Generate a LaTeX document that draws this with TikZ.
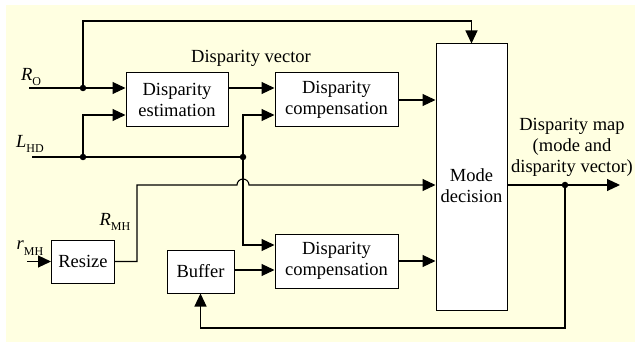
\documentclass[tikz,border=0pt]{standalone}
\usepackage{fontspec}
\setmainfont{Liberation Serif}
\usepackage{tikz}
\usetikzlibrary{arrows.meta,positioning}
\definecolor{paleyellow}{RGB}{255,255,225}
\newcommand{\sublbl}[2]{\textit{#1}\raisebox{-0.3em}{\fontsize{12}{12}\selectfont #2}}

\begin{document}
\begin{tikzpicture}[
  x=1pt, y=-1pt,
  font=\fontsize{18.5}{21}\selectfont,
  box/.style={rectangle, draw, line width=1pt, fill=white, align=center, inner sep=0pt},
  arrow/.style={-{Triangle[length=13pt, width=12pt]}, line width=1.1pt},
  wire/.style={line width=1.1pt},
  dot/.style={circle, fill, inner sep=0pt, minimum size=6.5pt}
]
\useasboundingbox (0,0) rectangle (635,342);
\fill[paleyellow] (6,5) rectangle (635,342);

\node[box, minimum width=102pt, minimum height=54pt] (de) at (177,100) {Disparity\\estimation};
\node[box, minimum width=123pt, minimum height=54pt] (dc1) at (336.5,100) {Disparity\\compensation};
\node[box, minimum width=71pt, minimum height=266pt] (mode) at (471.5,177) {};
\node (modetext) at (471.5,186) [align=center] {Mode\\decision};
\node[box, minimum width=63pt, minimum height=43pt] (resize) at (83,261.5) {Resize};
\node[box, minimum width=67pt, minimum height=43pt] (buffer) at (200.5,271.5) {Buffer};
\node[box, minimum width=123pt, minimum height=54pt] (dc2) at (336.5,261) {Disparity\\compensation};

% inputs, junctions, output
\coordinate (ro) at (29,88);
\coordinate (lhd) at (32,157);
\coordinate (rmh) at (27,261.5);
\coordinate (j1) at (83,88);
\coordinate (j2) at (83,157);
\coordinate (j3) at (243,157);
\coordinate (j4) at (565,185);
\coordinate (out) at (620,185);

\node (rolabel) at (31,77) {\sublbl{R}{O}};
\node (lhdlabel) at (30,144) {\sublbl{L}{HD}};
\node (rmhlabel) at (30,248) {\sublbl{r}{MH}};
\node (rmhout) at (115,222) {\sublbl{R}{MH}};
\node (dvlabel) at (251,58) {Disparity vector};
\node (maplabel) at (572,147) [align=center] {Disparity map\\(mode and\\disparity vector)};

\draw[arrow] (ro) -- (ro -| de.west);
\draw[wire] (lhd) -- (j3);
\draw[arrow] (j2) |- (de.west |- 0,115);
\draw[arrow] (j1) -- (83,21) -| (mode.north);
\draw[arrow] (de.east |- ro) -- (dc1.west |- ro);
\draw[arrow] (j3) |- (dc1.west |- 0,115);
\draw[arrow] (j3) |- (dc2.west |- 0,245);
\draw[arrow] (dc1) -- (mode.west |- dc1);
\draw[arrow] (dc2) -- (mode.west |- dc2);
\draw[arrow] (rmh) -- (resize);
\draw[arrow] (resize) -- (137,261.5) -- (137,185) -- (237,185)
  arc[start angle=180, end angle=0, radius=6pt] -- (mode.west |- 0,185);
\draw[arrow] (buffer.east |- 0,270) -- (dc2.west |- 0,270);
\draw[arrow] (mode.east |- out) -- (out);
\draw[arrow] (j4) -- (565,328) -| (buffer.south);

\node[dot] at (j1) {};
\node[dot] at (j2) {};
\node[dot] at (j3) {};
\node[dot] at (j4) {};
\end{tikzpicture}
\end{document}
